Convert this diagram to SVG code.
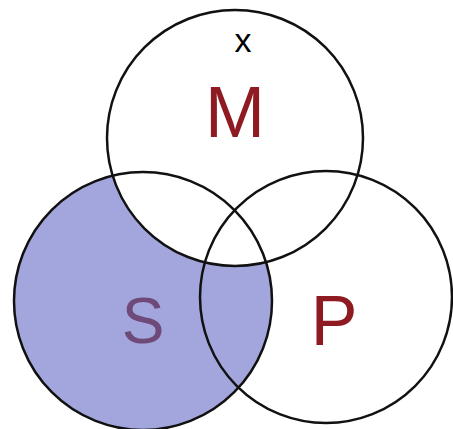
<svg xmlns="http://www.w3.org/2000/svg" width="453" height="429" viewBox="0 0 453 429">
<style>
.c{fill:none;stroke:#111;stroke-width:2.5}
.t{font-family:"Liberation Sans",Arial,sans-serif;text-anchor:middle}
</style>
<defs>
<mask id="notM"><rect width="453" height="429" fill="#fff"/><circle cx="235" cy="138" r="128" fill="#000"/></mask>
</defs>
<rect width="453" height="429" fill="#fff"/>
<circle cx="143" cy="301" r="129" fill="#a3a6dc" mask="url(#notM)"/>
<g id="M"><circle class="c" cx="235" cy="138" r="128"/><text class="t" x="235" y="137" font-size="72" fill="#8e1b22">M</text></g>
<g id="S"><circle class="c" cx="143" cy="301" r="129"/><text class="t" x="143" y="343" font-size="64" fill="#6e4a78">S</text></g>
<g id="P"><circle class="c" cx="326" cy="297" r="126"/><text class="t" x="334" y="345" font-size="70" fill="#8e1b22">P</text></g>
<text class="t" x="243" y="52" font-size="34" fill="#000">x</text>
</svg>
